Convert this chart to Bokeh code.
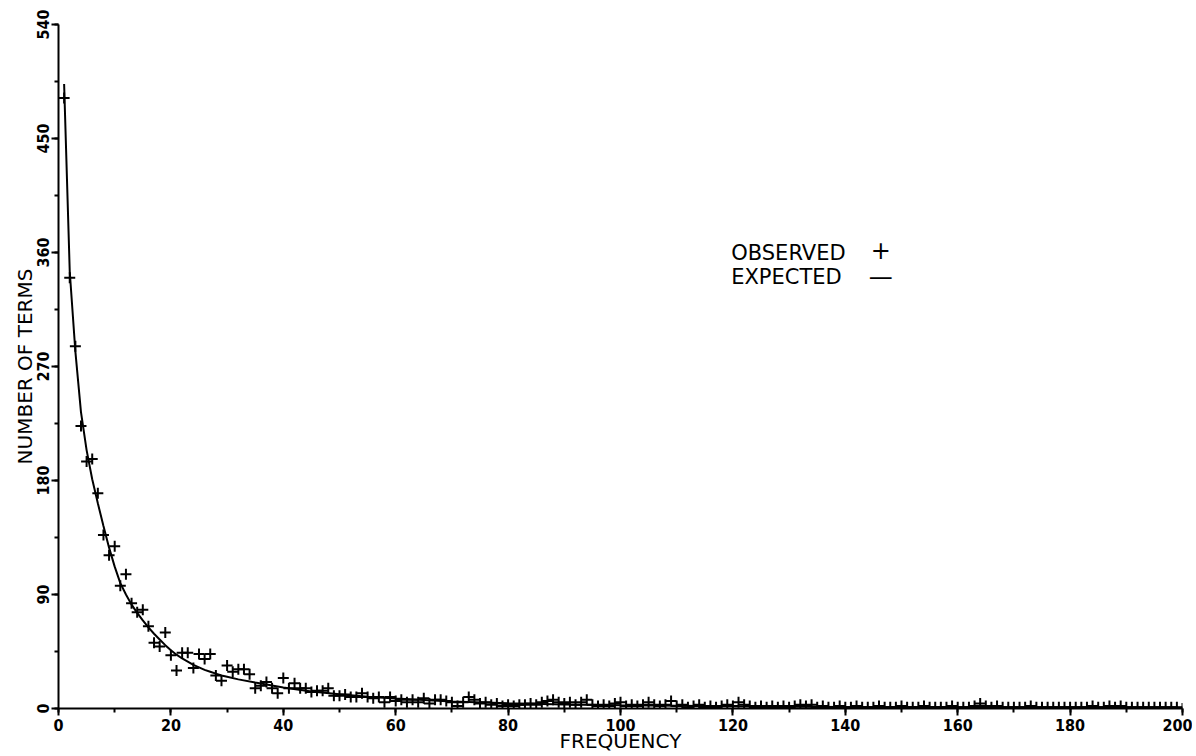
from bokeh.plotting import figure
from bokeh.models import Range1d, FixedTicker, Label, ColumnDataSource
from bokeh.embed import file_html
from bokeh.resources import INLINE

# ---------------- data ----------------
frequency = list(range(1, 201))
observed = [
    482, 340, 286, 223, 195, 197, 170, 137, 121, 128,
    97, 106, 83, 76, 78, 65, 52, 49, 60, 42,
    30, 44, 44, 32, 43, 39, 43, 26, 22, 34,
    29, 31, 31, 27, 16, 18, 21, 16, 12, 24,
    16, 20, 16, 16, 13, 14, 14, 16, 10, 10,
    11, 9, 9, 12, 9, 8, 9, 5, 9, 6,
    7, 5, 7, 5, 8, 4, 7, 7, 6, 5,
    2, 5, 9, 7, 4, 5, 3, 4, 2, 3,
    2, 3, 3, 4, 3, 5, 6, 7, 5, 4,
    5, 3, 5, 7, 3, 2, 3, 2, 4, 5,
    2, 3, 2, 3, 5, 3, 2, 3, 6, 2,
    3, 1, 2, 3, 1, 2, 1, 2, 3, 2,
    5, 3, 2, 1, 2, 1, 2, 1, 2, 1,
    2, 3, 2, 3, 1, 2, 1, 1, 2, 1,
    1, 2, 1, 1, 1, 2, 1, 1, 1, 2,
    1, 1, 1, 2, 1, 1, 1, 1, 2, 1,
    1, 1, 2, 4, 2, 1, 2, 1, 1, 1,
    1, 1, 2, 1, 1, 1, 1, 1, 1, 1,
    1, 1, 1, 2, 1, 1, 2, 1, 2, 1,
    1, 1, 1, 1, 1, 1, 1, 1, 1, 0,
]
expected_x = list(range(1, 31)) + [32, 35, 40, 45, 50, 55, 60, 70, 80, 90,
                                   100, 120, 140, 160, 180, 200]
expected_y = [
    493, 345, 282, 234, 204, 181, 162, 144, 127, 112,
    99, 90, 82, 75.5, 69.5, 64, 59, 54.5, 50, 46,
    42.5, 39.5, 37, 34.5, 32.5, 30.5, 29, 27.5, 26, 25,
    23, 20.5, 16.5, 13.5, 11.2, 9.3, 7.8, 5.6, 4.1, 3.2,
    2.5, 1.7, 1.2, 0.9, 0.7, 0.5,
]
x_ticks = list(range(0, 201, 20))
x_minor = list(range(0, 201, 10))
y_ticks = list(range(0, 541, 90))
y_minor = list(range(0, 541, 45))
x_title = "FREQUENCY"
y_title = "NUMBER OF TERMS"
legend_items = ["OBSERVED", "EXPECTED"]
legend_symbols = ["+", "\u2014"]

TICK_FONT = "DejaVu Sans Condensed, Roboto, sans-serif"
TEXT_FONT = "DejaVu Sans"

# ---------------- figure ----------------
p = figure(width=1192, height=756, output_backend="svg", toolbar_location=None,
           x_range=Range1d(0, 200), y_range=Range1d(0, 540),
           min_border_left=58, min_border_right=10, min_border_top=24,
           min_border_bottom=48)
p.background_fill_color = "white"
p.border_fill_color = "white"
p.outline_line_color = None
p.xgrid.visible = False
p.ygrid.visible = False

p.xaxis.ticker = FixedTicker(ticks=x_ticks, minor_ticks=x_minor)
p.yaxis.ticker = FixedTicker(ticks=y_ticks, minor_ticks=y_minor)
for ax in (p.xaxis, p.yaxis):
    ax.axis_line_width = 2
    ax.axis_line_color = "black"
    ax.major_tick_line_width = 2
    ax.minor_tick_line_width = 2
    ax.major_tick_line_color = "black"
    ax.minor_tick_line_color = "black"
    ax.major_tick_in = 0
    ax.major_tick_out = 7
    ax.minor_tick_in = 0
    ax.minor_tick_out = 4
    ax.major_label_text_font = TICK_FONT
    ax.major_label_text_font_style = "bold"
    ax.major_label_text_font_size = "16px"
    ax.major_label_text_color = "black"
    ax.major_label_standoff = 3
    ax.axis_label_text_font = TEXT_FONT
    ax.axis_label_text_font_style = "normal"
    ax.axis_label_text_font_size = "20px"
    ax.axis_label_text_color = "black"
p.yaxis.major_label_orientation = "vertical"
p.xaxis.axis_label = x_title
p.yaxis.axis_label = y_title
p.xaxis.axis_label_standoff = -5
p.yaxis.axis_label_standoff = -3

src = ColumnDataSource(dict(x=frequency, y=observed))
p.line(expected_x, expected_y, line_color="black", line_width=2)
p.scatter("x", "y", source=src, marker="cross", size=11,
          line_color="black", line_width=2)

# legend (text)
p.add_layout(Label(x=119.7, y=360, text=legend_items[0], text_font=TEXT_FONT,
                   text_font_size="21px", text_baseline="alphabetic",
                   text_color="black"))
p.add_layout(Label(x=119.7, y=341, text=legend_items[1], text_font=TEXT_FONT,
                   text_font_size="21px", text_baseline="alphabetic",
                   text_color="black"))
p.add_layout(Label(x=146.3, y=362, text=legend_symbols[0], text_font=TEXT_FONT,
                   text_font_size="24px", text_baseline="alphabetic",
                   text_align="center", text_color="black"))
p.add_layout(Label(x=146.3, y=341, text=legend_symbols[1], text_font=TEXT_FONT,
                   text_font_size="24px", text_baseline="alphabetic",
                   text_align="center", text_color="black"))

open("out.html", "w").write(file_html(p, INLINE))
